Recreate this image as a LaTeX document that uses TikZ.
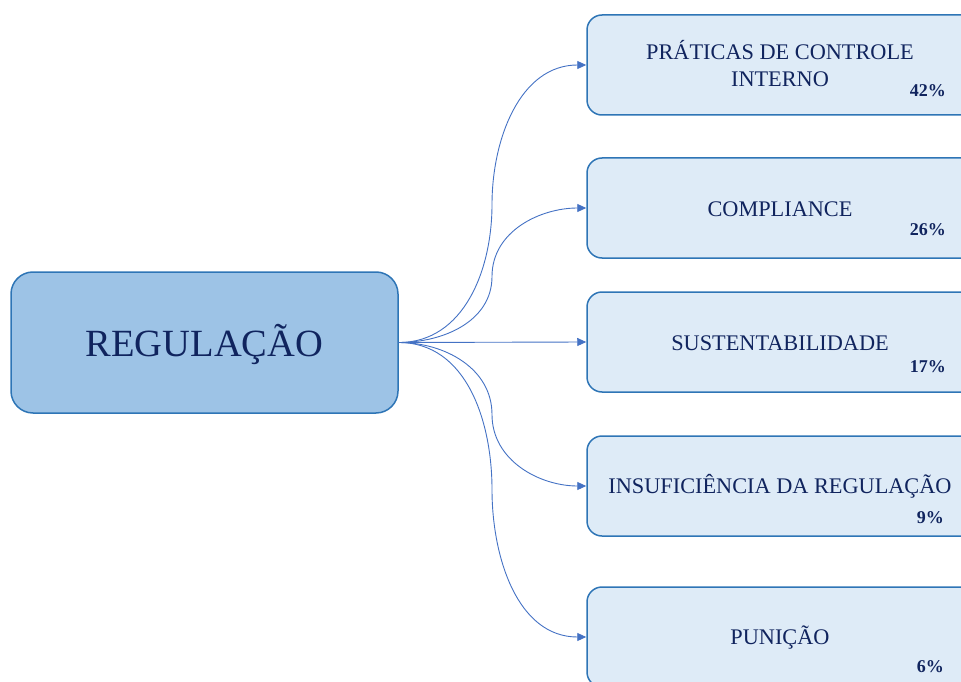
\documentclass[tikz,border=0pt]{standalone}
\usepackage{fontspec}
\setmainfont{Liberation Serif}
\usetikzlibrary{arrows.meta}
\definecolor{mainfill}{RGB}{157,195,230}
\definecolor{boxfill}{RGB}{222,235,247}
\definecolor{edge}{RGB}{46,117,182}
\definecolor{conncol}{RGB}{68,114,196}
\definecolor{navy}{RGB}{16,36,94}
\tikzset{
  mainbox/.style={draw=edge, fill=mainfill, line width=1.5pt, rounded corners=22pt,
    minimum width=387pt, minimum height=141pt, inner sep=0pt},
  catbox/.style={draw=edge, fill=boxfill, line width=1.5pt, rounded corners=15pt,
    minimum width=400pt, minimum height=100pt, inner sep=0pt},
  cattext/.style={font=\fontsize{22.3}{27}\selectfont, text=navy, align=center, anchor=base, inner sep=0pt},
  pct/.style={font=\fontsize{18}{20}\selectfont\bfseries, text=navy, anchor=base east, inner sep=0pt},
  conn/.style={draw=conncol, line width=0.9pt, -{Triangle[length=9pt,width=8pt]}},
}
\begin{document}
\begin{tikzpicture}[x=1pt,y=-1pt]
\useasboundingbox (0,0) rectangle (961,682);
\clip (0,0) rectangle (961,682);
\node[mainbox] (main) at (204.5,342.5) {};
\node[font=\fontsize{38.5}{44}\selectfont, text=navy, anchor=base, inner sep=0pt] (maint) at (204.5,356) {REGULAÇÃO};

\node[catbox] (b1) at (787,65) {};
\node[catbox] (b2) at (787,208) {};
\node[catbox] (b3) at (787,342) {};
\node[catbox] (b4) at (787,486) {};
\node[catbox] (b5) at (787,637) {};

\node[cattext] (t1) at (780,87) {PRÁTICAS DE CONTROLE\\INTERNO};
\node[cattext] (t2) at (780,216) {COMPLIANCE};
\node[cattext] (t3) at (780,350) {SUSTENTABILIDADE};
\node[cattext] (t4) at (780,493.5) {INSUFICIÊNCIA DA REGULAÇÃO};
\node[cattext] (t5) at (780,644.5) {PUNIÇÃO};

\node[pct] (p1) at (946,96.5) {42\%};
\node[pct] (p2) at (946,235) {26\%};
\node[pct] (p3) at (946,372) {17\%};
\node[pct] (p4) at (944,523) {9\%};
\node[pct] (p5) at (944,672) {6\%};

\coordinate (m1) at (492,204.5);
\coordinate (m2) at (492,276.5);
\coordinate (m4) at (492,414.5);
\coordinate (m5) at (492,489.5);

\draw[conn] (main.east) to[out=0,in=-90] (m1) to[out=90,in=180] (b1.west);
\draw[conn] (main.east) to[out=0,in=-90] (m2) to[out=90,in=180] (b2.west);
\draw[conn] (main.east) -- (b3.west);
\draw[conn] (main.east) to[out=0,in=90] (m4) to[out=-90,in=180] (b4.west);
\draw[conn] (main.east) to[out=0,in=90] (m5) to[out=-90,in=180] (b5.west);
\end{tikzpicture}
\end{document}
